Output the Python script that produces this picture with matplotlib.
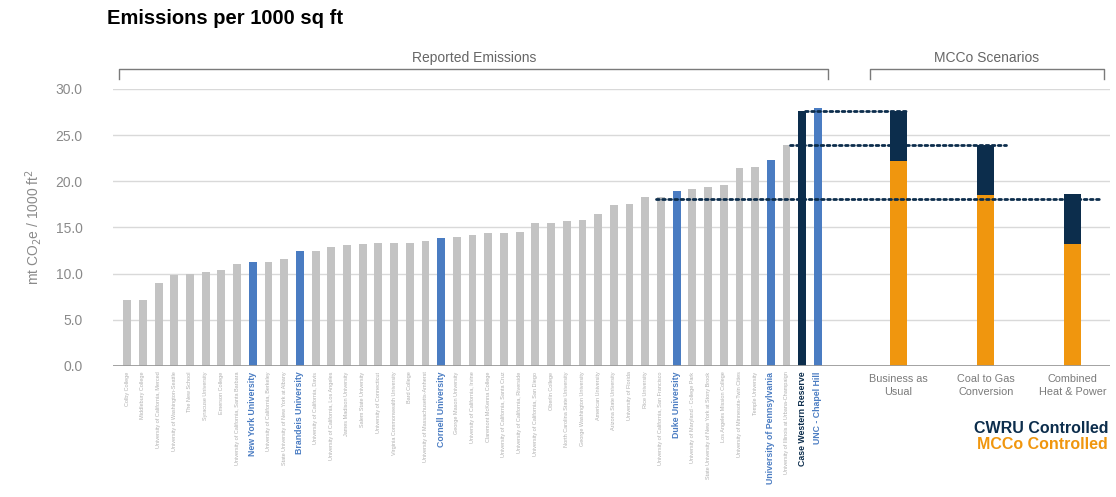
import numpy as np
import matplotlib.pyplot as plt

plt.rcParams['font.family'] = ['Liberation Sans', 'DejaVu Sans']

# Reported emissions, mt CO2e per 1000 sq ft
schools = [
    'Colby College', 'Middlebury College', 'University of California, Merced',
    'University of Washington-Seattle', 'The New School', 'Syracuse University',
    'Emerson College', 'University of California, Santa Barbara', 'New York University',
    'University of California, Berkeley', 'State University of New York at Albany',
    'Brandeis University', 'University of California, Davis',
    'University of California, Los Angeles', 'James Madison University',
    'Salem State University', 'University of Connecticut',
    'Virginia Commonwealth University', 'Bard College',
    'University of Massachusetts-Amherst', 'Cornell University',
    'George Mason University', 'University of California, Irvine',
    'Claremont McKenna College', 'University of California, Santa Cruz',
    'University of California, Riverside', 'University of California, San Diego',
    'Oberlin College', 'North Carolina State University',
    'George Washington University', 'American University', 'Arizona State University',
    'University of Florida', 'Rice University', 'University of California, San Francisco',
    'Duke University', 'University of Maryland - College Park',
    'State University of New York at Stony Brook', 'Los Angeles Mission College',
    'University of Minnesota-Twin Cities', 'Temple University',
    'University of Pennsylvania', 'University of Illinois at Urbana-Champaign',
    'Case Western Reserve', 'UNC - Chapel Hill',
]
emissions = [
    7.2, 7.2, 9.0, 9.8, 10.0, 10.2, 10.4, 11.0, 11.3, 11.3,
    11.6, 12.4, 12.5, 12.9, 13.1, 13.2, 13.3, 13.3, 13.3, 13.5,
    13.9, 14.0, 14.2, 14.4, 14.4, 14.5, 15.5, 15.5, 15.7, 15.8,
    16.5, 17.4, 17.5, 18.3, 18.3, 18.9, 19.2, 19.4, 19.6, 21.4,
    21.5, 22.3, 23.9, 27.6, 27.9,
]
peers = ['New York University', 'Brandeis University', 'Cornell University',
         'Duke University', 'University of Pennsylvania', 'UNC - Chapel Hill']
home = 'Case Western Reserve'

# MCCo scenarios
scenarios = ['Business as\nUsual', 'Coal to Gas\nConversion', 'Combined\nHeat & Power']
mcco_part = [22.2, 18.5, 13.2]
cwru_part = [5.4, 5.4, 5.4]

# dotted reference levels: (value, start, end)
ref_levels = [27.6, 23.9, 18.1]
ref_start = [43.2, 42.2, 33.7]
ref_end = [49.6, 56.0, 62.1]

GRAY = '#c3c3c3'
BLUE = '#4a7cc2'
NAVY = '#0c2d4c'
ORANGE = '#f0960e'
TXT = '#8a8a8a'

fig = plt.figure(figsize=(11.16, 4.97), dpi=100)
ax = fig.add_axes([0.1013, 0.2636, 0.8933, 0.5574])

x = np.arange(len(schools))
colors = []
for s in schools:
    if s == home:
        colors.append(NAVY)
    elif s in peers:
        colors.append(BLUE)
    else:
        colors.append(GRAY)
ax.bar(x, emissions, width=0.5, color=colors, zorder=3)

sx = np.array([49.1, 54.7, 60.2])
ax.bar(sx, mcco_part, width=1.08, color=ORANGE, zorder=3)
ax.bar(sx, cwru_part, width=1.08, bottom=mcco_part, color=NAVY, zorder=3)

for lv, a, b in zip(ref_levels, ref_start, ref_end):
    ax.plot([a, b], [lv, lv], color=NAVY, lw=2, linestyle=(0, (1, 1.2)),
            dash_capstyle='round', zorder=4)

ax.set_xlim(-0.9, 62.6)
ax.set_ylim(0, 30)
ax.set_yticks(np.arange(0, 31, 5))
ax.set_yticklabels(['%.1f' % v for v in np.arange(0, 31, 5)], color=TXT, fontsize=10)
ax.yaxis.grid(True, color='#d9d9d9', lw=1, zorder=0)
ax.axhline(0, color='#9a9a9a', lw=2, zorder=5)
for sp in ax.spines.values():
    sp.set_visible(False)
ax.tick_params(axis='both', length=0)
ax.tick_params(axis='y', pad=22)
ax.set_ylabel(r'mt CO$_2$e / 1000 ft$^2$', color=TXT, fontsize=10, labelpad=8)

ax.set_xticks(x)
ax.set_xticklabels(schools, rotation=90, va='top', ha='center')
ax.tick_params(axis='x', pad=4)
for lab in ax.get_xticklabels():
    t = lab.get_text()
    if t == home:
        lab.set_color(NAVY); lab.set_fontweight('bold'); lab.set_fontsize(6.3)
    elif t in peers:
        lab.set_color(BLUE); lab.set_fontweight('bold'); lab.set_fontsize(6.3)
    else:
        lab.set_color('#b0b0b0'); lab.set_fontsize(4)

for xs, lab in zip(sx, scenarios):
    ax.text(xs, -0.03, lab, transform=ax.get_xaxis_transform(), ha='center', va='top',
            fontsize=7.8, color='#7a7a7a', linespacing=1.35)

# section brackets
def bracket(x0, x1, text):
    kw = dict(color='#7a7a7a', lw=1, clip_on=False)
    ax.plot([x0, x0, x1, x1], [31.1, 32.2, 32.2, 31.1], **kw)
    ax.text((x0 + x1) / 2, 32.6, text, ha='center', va='bottom', fontsize=10,
            color='#666666')

bracket(-0.5, 44.65, 'Reported Emissions')
bracket(47.3, 62.2, 'MCCo Scenarios')

fig.text(0.096, 0.962, 'Emissions per 1000 sq ft', fontsize=14.5, fontweight='bold',
         ha='left', va='center')
fig.text(0.993, 0.137, 'CWRU Controlled', fontsize=11.5, fontweight='bold',
         color=NAVY, ha='right', va='center')
fig.text(0.993, 0.105, 'MCCo Controlled', fontsize=11.5, fontweight='bold',
         color=ORANGE, ha='right', va='center')

fig.savefig('out.png', dpi=100)
